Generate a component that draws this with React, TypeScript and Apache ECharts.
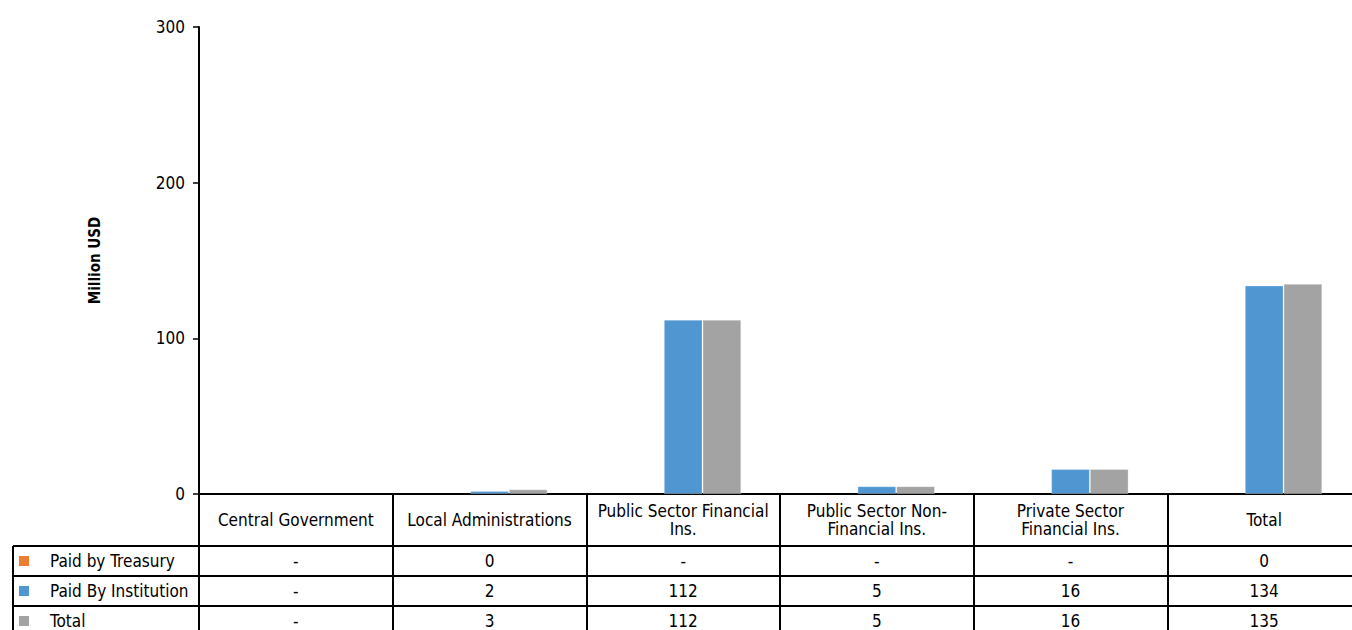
import React, { useEffect, useRef } from "react";
import * as echarts from "echarts";

const categories = [
  "Central Government",
  "Local Administrations",
  "Public Sector Financial\nIns.",
  "Public Sector Non-\nFinancial Ins.",
  "Private Sector\nFinancial Ins.",
  "Total",
];
const seriesNames = ["Paid by Treasury", "Paid By Institution", "Total"];
const paidByTreasury: (number | null)[] = [null, 0, null, null, null, 0];
const paidByInstitution: (number | null)[] = [null, 2, 112, 5, 16, 134];
const totalPaid: (number | null)[] = [null, 3, 112, 5, 16, 135];
const colors = ["#ED7D31", "#5097D1", "#A3A3A3"];
const yMin = 0;
const yMax = 300;
const yInterval = 100;

const FONT = '"Liberation Sans Narrow", "DejaVu Sans Condensed", Roboto, sans-serif';

export default function App() {
  const ref = useRef<HTMLDivElement>(null);
  useEffect(() => {
    if (!ref.current) return;
    const chart = echarts.init(ref.current, null, { renderer: "svg" });
    const seriesData = [paidByTreasury, paidByInstitution, totalPaid];
    const option: any = {
      animation: false,
      textStyle: { fontFamily: FONT },
      grid: { left: 199, top: 27, bottom: 136, right: 0, containLabel: false },
      xAxis: {
        type: "category",
        data: categories,
        axisLine: { lineStyle: { color: "#000", width: 2 } },
        axisTick: { show: true, length: 142, alignWithLabel: false, lineStyle: { color: "#000", width: 2 } },
        axisLabel: {
          interval: 0,
          fontSize: 17,
          color: "#000",
          margin: 26,
          verticalAlign: "middle",
          lineHeight: 18,
          fontFamily: FONT,
        },
      },
      yAxis: {
        type: "value",
        min: yMin,
        max: yMax,
        interval: yInterval,
        axisLine: { show: true, lineStyle: { color: "#000", width: 2 } },
        axisTick: { show: true, length: 6, lineStyle: { color: "#000", width: 1.5 } },
        axisLabel: { fontSize: 17, color: "#000", margin: 14, fontFamily: FONT },
        splitLine: { show: false },
        name: "Million USD",
        nameLocation: "middle",
        nameGap: 97,
        nameTextStyle: { fontSize: 15, fontWeight: "bold", color: "#000", fontFamily: FONT },
      },
      series: seriesNames.map((name, i) => ({
        name,
        type: "bar",
        data: seriesData[i],
        barGap: "0%",
        barCategoryGap: "40%",
        itemStyle:
          i === 0
            ? { color: colors[i] }
            : { color: colors[i], borderColor: "rgba(255,255,255,0.28)", borderWidth: 1 },
      })),
    };
    chart.setOption(option);

    const xs = categories.map((_, i) => chart.convertToPixel({ xAxisIndex: 0 }, i) as number);
    const rowTop = 546;
    const rowH = 30;
    const graphics: any[] = [];
    for (let r = 0; r < 3; r++) {
      graphics.push({
        type: "line",
        shape: { x1: 13, y1: rowTop + r * rowH, x2: 1361, y2: rowTop + r * rowH },
        style: { stroke: "#000", lineWidth: 2 },
      });
      const cy = rowTop + r * rowH + rowH / 2;
      graphics.push({
        type: "rect",
        shape: { x: 19, y: cy - 5, width: 10, height: 10 },
        style: { fill: colors[r] },
      });
      graphics.push({
        type: "text",
        x: 50,
        y: cy,
        style: { text: seriesNames[r], fontSize: 17, fill: "#000", fontFamily: FONT, verticalAlign: "middle", align: "left" },
      });
      seriesData[r].forEach((v, i) => {
        graphics.push({
          type: "text",
          x: xs[i],
          y: cy,
          style: {
            text: v === null ? "-" : String(Math.round(v)),
            fontSize: 17,
            fill: "#000",
            fontFamily: FONT,
            align: "center",
            verticalAlign: "middle",
          },
        });
      });
    }
    graphics.push({
      type: "line",
      shape: { x1: 13, y1: rowTop, x2: 13, y2: 640 },
      style: { stroke: "#000", lineWidth: 2 },
    });
    chart.setOption({ graphic: graphics });
    return () => chart.dispose();
  }, []);
  return (
    <div
      ref={ref}
      style={{ position: "fixed", left: 0, top: 0, width: 1361, height: 630, background: "#fff" }}
    />
  );
}
